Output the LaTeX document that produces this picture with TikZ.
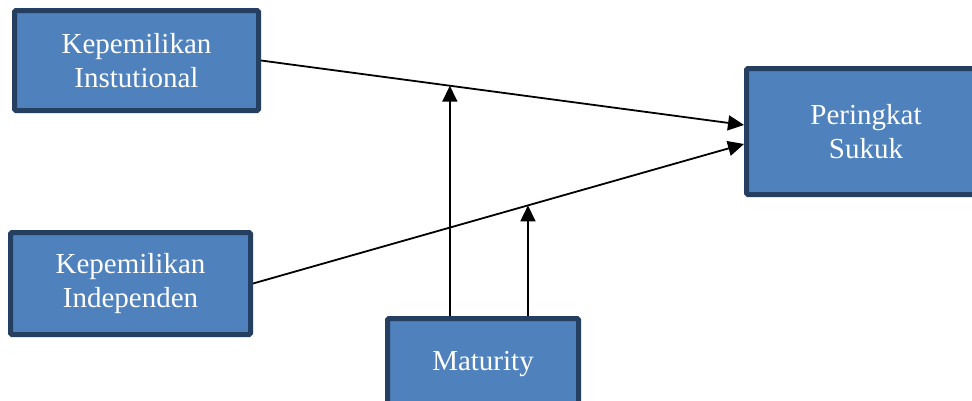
\documentclass[tikz,border=0pt]{standalone}
\usepackage{fontspec}
\setmainfont{Liberation Serif}
\usetikzlibrary{arrows.meta,calc}
\definecolor{boxfill}{HTML}{4F81BD}
\definecolor{boxline}{HTML}{243F60}
\tikzset{
  varbox/.style={draw=boxline, fill=boxfill, line width=5pt, rounded corners=1.5pt,
    text=white, align=center, inner sep=0pt,
    font=\fontsize{29}{34}\selectfont},
  arr/.style={line width=1.8pt, -{Triangle[length=16pt,width=15pt]}}
}
\begin{document}
\begin{tikzpicture}[x=1pt,y=-1pt]
\clip (0,0) rectangle (972,400);
\fill[white] (0,0) rectangle (972,400);
\node[varbox, minimum width=244pt, minimum height=100pt] (b1) at (136.5,60.5) {Kepemilikan\\Instutional};
\node[varbox, minimum width=240pt, minimum height=102pt] (b2) at (130.5,283.5) {Kepemilikan\\Independen};
\node[varbox, minimum width=239pt, minimum height=126pt] (b3) at (866,131.5) {Peringkat\\Sukuk};
\node[varbox, minimum width=191pt, minimum height=91pt] (b4) at (483,364) {Maturity};
\coordinate (t1) at ($(b3.west)+(0,-6.5)$);
\coordinate (t2) at ($(b3.west)+(0,12.5)$);
\draw[arr] (b1.east) -- (t1);
\draw[arr] (b2.east) -- (t2);
\coordinate (m1) at ($(b1.east)!0.391!(t1)$);
\coordinate (m2) at ($(b2.east)!0.560!(t2)$);
\draw[arr] (m1 |- b4.north) -- (m1);
\draw[arr] (m2 |- b4.north) -- (m2);
\end{tikzpicture}
\end{document}
